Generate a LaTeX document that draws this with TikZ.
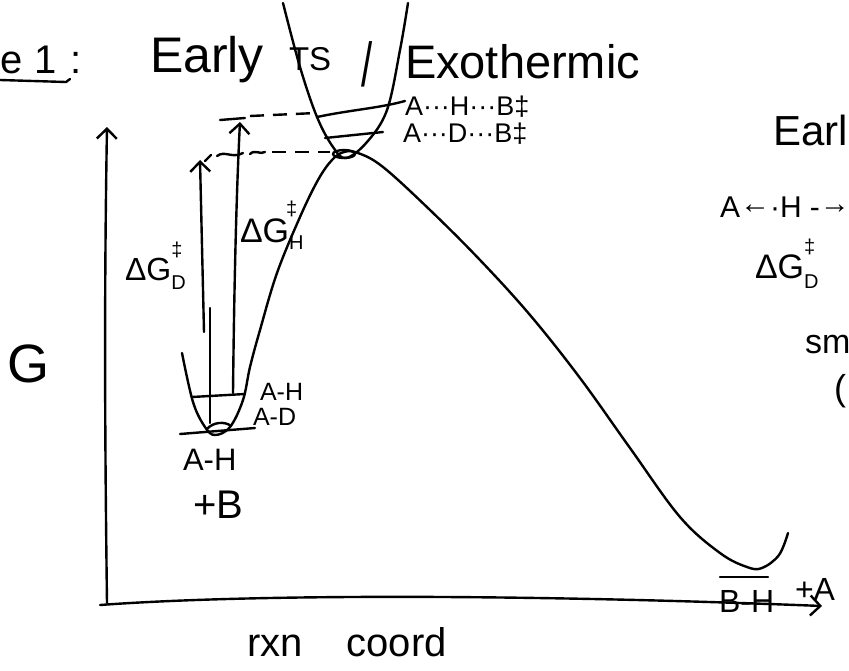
\documentclass[tikz,border=0pt]{standalone}
\usepackage{fontspec}
\setmainfont{Liberation Sans}
\usetikzlibrary{arrows.meta}
\newcommand\hfs[1]{\fontsize{#1}{#1}\selectfont}
\begin{document}
\begin{tikzpicture}[x=1pt,y=-1pt,line width=2.4pt,line cap=round,line join=round,
  lbl/.style={anchor=base west,inner sep=0pt,outer sep=0pt},
  barb/.style={-{Straight Barb[length=10pt,width=20pt]}},
  dsh/.style={dash pattern=on 14pt off 9pt,line cap=butt}]
\useasboundingbox (0,0) rectangle (849,670);

% title
\node[lbl] (ttl) at (0,73) {\hfs{40}e\hspace{12pt}1\hspace{14pt}:};
\draw (0,80) -- (66,82) -- (70,79);
\node[lbl] (early) at (150,72) {\hfs{50}Early};
\node[lbl] (ts) at (289,70) {\hfs{33}TS};
\node[lbl] (sl) at (361,86) {\hfs{40}\scalebox{1}[1.55]{/}};
\node[lbl] (exo) at (405,78) {\hfs{47}Exothermic};

% axes
\draw[barb] (107,603) .. controls (105,450) and (104,300) .. (107,127);
\draw[barb] (100,605) .. controls (250,594) and (520,594) .. (822,606);
\node[lbl] (G) at (8,382) {\hfs{54}G};
\node[lbl] (rxn) at (247,656) {\hfs{40}rxn\hspace{44pt}coord};

% TS well (parabola)
\draw plot[smooth,tension=0.6] coordinates {(283,3) (300,67) (317,117) (333,147) (346,158) (367,142) (387,110) (400,50) (408,3)};
\draw (317,117) .. controls (350,110) and (380,108) .. (405,101);
\draw (325,138) -- (383,132);
\node[lbl] (tsH) at (405,115) {\hfs{27}A···H···B‡};
\node[lbl] (tsD) at (403,142) {\hfs{27}A···D···B‡};

% dashed level lines
\draw (220,120) -- (245,118);
\draw[dsh] (250,116) -- (316,113);
\draw (205,161) -- (211,155);
\draw (217,156) .. controls (225,150) and (232,159) .. (243,153);
\draw (250,154) .. controls (255,149) and (260,155) .. (265,152);
\draw[dsh] (272,152) -- (330,152);

% main energy curve
\draw plot[smooth,tension=0.6] coordinates {(182,353) (193,402) (205,427) (215,435) (230,427) (243,400) (250,367) (260,330) (277,273) (300,217) (318,180) (332,160) (344,152) (358,153) (383,167) (430,210) (480,260) (530,315) (580,378) (630,448) (680,517) (720,553) (747,567) (762,568) (779,555) (788,533)};
\draw (344,154) ellipse [x radius=11, y radius=4];

% reactant well levels
\draw (192,397) -- (245,394);
\draw (180,434) -- (255,428);
\draw (207,429) .. controls (213,422) and (225,421) .. (231,426);
\node[lbl] (wAH) at (260,400) {\hfs{25}A-H};
\node[lbl] (wAD) at (253,425) {\hfs{25}A-D};
\node[lbl] (rAH) at (183,470) {\hfs{31}A-H};
\node[lbl] (rB) at (193,518) {\hfs{40}+B};

% activation arrows
\coordinate (dDb) at (204,332);
\coordinate (dDt) at (200,160);
\draw[barb] (dDb) -- (dDt);
\coordinate (dDl) at (210,423);
\coordinate (dDu) at (210,308);
\draw (dDl) -- (dDu);
\coordinate (dHb) at (233,393);
\coordinate (dHt) at (240,122);
\draw[barb] (dHb) .. controls (234,300) and (236,200) .. (dHt);
\node[lbl] (lD) at (125,280) {\hfs{32}ΔG\rlap{\raisebox{0.72em}{\hfs{20}‡}}\raisebox{-0.3em}{\hfs{20}D}};
\node[lbl] (lH) at (240,242) {\hfs{34}ΔG\rlap{\raisebox{0.78em}{\hspace{-3pt}\hfs{20}‡}}\raisebox{-0.22em}{\hfs{20}H}};

% product
\draw (720,577) -- (768,577);
\node[lbl] (pBH) at (719,612) {\hfs{32}B-H};
\node[lbl] (pA) at (795,600) {\hfs{32}+A};

% right side notes
\node[lbl] (rE) at (773,145) {\hfs{42}Earl};
\node[lbl] (rAH2) at (720,217) {\hfs{30}A\raisebox{0.12em}{←}·H -\raisebox{0.12em}{→}};
\node[lbl] (rG) at (755,278) {\hfs{34}ΔG\rlap{\raisebox{0.72em}{\hfs{20}‡}}\raisebox{-0.3em}{\hfs{20}D}};
\node[lbl] (rsm) at (805,353) {\hfs{34}sm};
\node[lbl] (rpar) at (834,400) {\hfs{36}(};
\end{tikzpicture}
\end{document}
